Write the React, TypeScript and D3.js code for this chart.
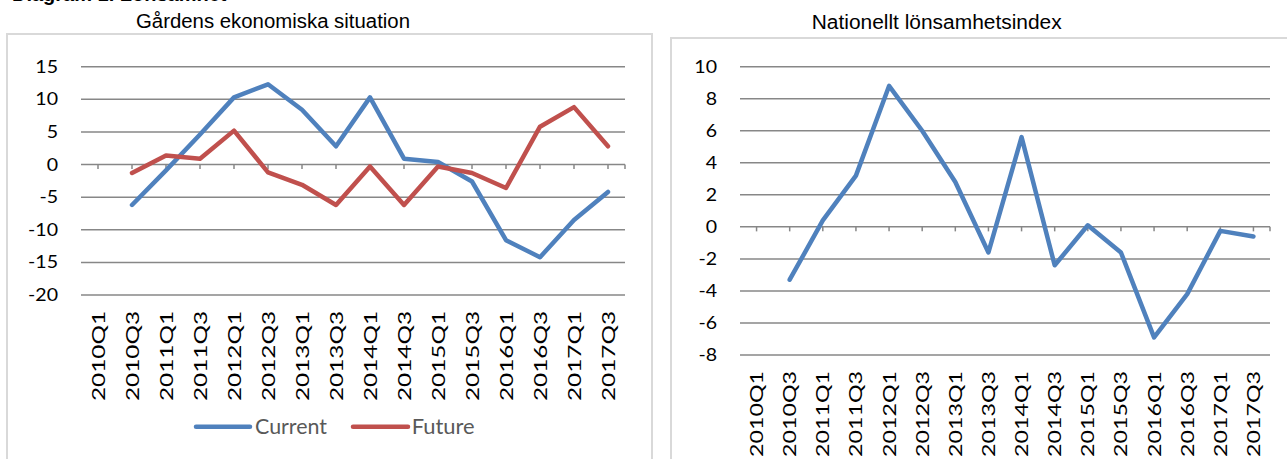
import React from "react";
import * as d3 from "d3";

// quarter labels (every other quarter is shown)
const categories = [
  "2010Q1", "2010Q3", "2011Q1", "2011Q3", "2012Q1", "2012Q3", "2013Q1", "2013Q3",
  "2014Q1", "2014Q3", "2015Q1", "2015Q3", "2016Q1", "2016Q3", "2017Q1", "2017Q3",
];

// Gårdens ekonomiska situation
const current = [null, -6.2, -0.9, 4.6, 10.3, 12.3, 8.4, 2.8, 10.3, 0.9, 0.4, -2.6, -11.6, -14.2, -8.5, -4.2];
const future = [null, -1.3, 1.4, 0.9, 5.2, -1.2, -3.1, -6.2, -0.3, -6.2, -0.3, -1.3, -3.6, 5.8, 8.8, 2.8];

// Nationellt lönsamhetsindex
const nationalIndex = [null, -3.3, 0.4, 3.2, 8.8, 6.0, 2.8, -1.6, 5.6, -2.4, 0.1, -1.6, -6.9, -4.2, -0.25, -0.6];

const leftTicks = [15, 10, 5, 0, -5, -10, -15, -20];
const rightTicks = [10, 8, 6, 4, 2, 0, -2, -4, -6, -8];

const BLUE = "#4f81bd";
const RED = "#c0504d";
const GRID = "#878787";
const FRAME = "#d9d9d9";
const TICK_FONT = "Lato, 'Open Sans', sans-serif";
const TITLE_FONT = "'Liberation Sans Narrow', 'Arial Narrow', 'Liberation Sans', sans-serif";

type Series = { values: (number | null)[]; color: string };

type PanelProps = {
  x0: number;
  x1: number;
  yTop: number;
  yBottom: number;
  ticks: number[];
  labelLen: number;
  series: Series[];
};

const Panel = ({ x0, x1, yTop, yBottom, ticks, labelLen, series }: PanelProps) => {
  const x = d3.scaleBand<string>().domain(categories).range([x0, x1]);
  const y = d3
    .scaleLinear()
    .domain([d3.min(ticks)!, d3.max(ticks)!])
    .range([yBottom, yTop]);
  const cx = (c: string) => x(c)! + x.bandwidth() / 2;

  const line = d3
    .line<number | null>()
    .defined((d) => d != null)
    .x((_, i) => cx(categories[i]))
    .y((d) => y(d as number));

  return (
    <g>
      {ticks.map((t) => (
        <g key={t}>
          <line x1={x0} x2={x1} y1={y(t)} y2={y(t)} stroke={GRID} strokeWidth={1.5} />
          <text
            transform={`translate(${x0 - 23},${y(t) + 6}) scale(1.15,1)`}
            textAnchor="end"
            fontFamily={TICK_FONT}
            fontSize={17}
            fill="#000"
          >
            {t}
          </text>
        </g>
      ))}
      {/* tick marks on the zero line */}
      {categories.map((c) => (
        <line key={c} x1={cx(c)} x2={cx(c)} y1={y(0)} y2={y(0) + 4.5} stroke={GRID} strokeWidth={1.5} />
      ))}
      <line x1={x1} x2={x1} y1={y(0)} y2={y(0) + 4.5} stroke={GRID} strokeWidth={1.5} />
      {categories.map((c) => (
        <text
          key={c}
          transform={`translate(${cx(c) + 6.5},${yBottom + 16}) rotate(-90)`}
          textAnchor="end"
          fontFamily={TICK_FONT}
          fontSize={17.5}
          textLength={labelLen}
          lengthAdjust="spacingAndGlyphs"
          fill="#000"
        >
          {c}
        </text>
      ))}
      {series.map((s, i) => (
        <path
          key={i}
          d={line(s.values) ?? ""}
          fill="none"
          stroke={s.color}
          strokeWidth={4.5}
          strokeLinejoin="round"
          strokeLinecap="round"
        />
      ))}
    </g>
  );
};

const App = () => {
  return (
    <svg
      width={1287}
      height={459}
      style={{ position: "absolute", left: 0, top: 0, background: "#fff" }}
    >
      <rect width={1287} height={459} fill="#fff" />
      <text x={12} y={0.5} fontFamily="'Liberation Sans', sans-serif" fontWeight="bold" fontSize={20} fill="#000">
        Diagram 1. Lönsamhet
      </text>

      {/* left panel */}
      <rect x={7} y={34} width={645} height={440} fill="none" stroke={FRAME} strokeWidth={2} />
      <text
        x={273}
        y={28}
        textAnchor="middle"
        fontFamily={TITLE_FONT}
        fontSize={20}
        textLength={274}
        lengthAdjust="spacingAndGlyphs"
        fill="#000"
      >
        Gårdens ekonomiska situation
      </text>
      <Panel
        x0={81}
        x1={625}
        yTop={66.7}
        yBottom={295}
        ticks={leftTicks}
        labelLen={90}
        series={[
          { values: current, color: BLUE },
          { values: future, color: RED },
        ]}
      />
      {/* legend */}
      <g fontFamily={TICK_FONT} fontSize={21} fill="#595959">
        <line x1={196} x2={250} y1={426.7} y2={426.7} stroke={BLUE} strokeWidth={4.5} strokeLinecap="round" />
        <text x={255} y={434.3} textLength={72} lengthAdjust="spacingAndGlyphs">
          Current
        </text>
        <line x1={353} x2={408} y1={426.7} y2={426.7} stroke={RED} strokeWidth={4.5} strokeLinecap="round" />
        <text x={411.7} y={434.3} textLength={63} lengthAdjust="spacingAndGlyphs">
          Future
        </text>
      </g>

      {/* right panel */}
      <rect x={671} y={38} width={640} height={440} fill="none" stroke={FRAME} strokeWidth={2} />
      <text
        x={936.7}
        y={28.5}
        textAnchor="middle"
        fontFamily={TITLE_FONT}
        fontSize={20}
        textLength={250}
        lengthAdjust="spacingAndGlyphs"
        fill="#000"
      >
        Nationellt lönsamhetsindex
      </text>
      <Panel
        x0={740}
        x1={1270}
        yTop={66.7}
        yBottom={355}
        ticks={rightTicks}
        labelLen={86}
        series={[{ values: nationalIndex, color: BLUE }]}
      />
    </svg>
  );
};

export default App;
